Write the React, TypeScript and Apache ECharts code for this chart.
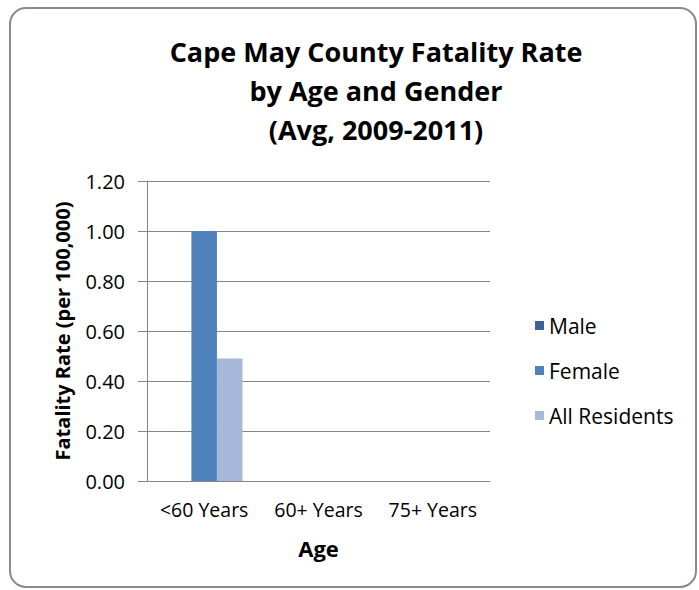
import React, { useEffect, useRef } from "react";
import * as echarts from "echarts";

const categories = ["<60 Years", "60+ Years", "75+ Years"];
const seriesNames = ["Male", "Female", "All Residents"];
const maleValues = [0, null, null];
const femaleValues = [1.0, null, null];
const allValues = [0.49, null, null];
const colors = ["#3D6399", "#4F81BD", "#A7B9DA"];
const titleLines = ["Cape May County Fatality Rate", "by Age and Gender", "(Avg, 2009-2011)"];

const FONT = "'Open Sans', sans-serif";

export default function App() {
  const ref = useRef<HTMLDivElement>(null);
  useEffect(() => {
    if (!ref.current) return;
    const chart = echarts.init(ref.current, null, { renderer: "svg" });
    const values = [maleValues, femaleValues, allValues];
    chart.setOption({
      animation: false,
      backgroundColor: "#ffffff",
      title: {
        text: titleLines.join("\n"),
        left: 371,
        top: 27,
        textAlign: "center",
        textStyle: {
          fontFamily: FONT,
          fontSize: 27,
          fontWeight: "bold",
          color: "#000",
          lineHeight: 39,
        },
      },
      graphic: [
        {
          type: "rect",
          shape: { x: 10, y: 8, width: 686, height: 579, r: 16 },
          style: { fill: "none", stroke: "#8a8a8a", lineWidth: 2 },
          z: -1,
        },
      ],
      legend: {
        orient: "vertical",
        left: 530,
        top: 310,
        itemWidth: 9,
        itemHeight: 9,
        itemGap: 24,
        icon: "rect",
        data: seriesNames,
        textStyle: { fontFamily: FONT, fontSize: 21, color: "#000", lineHeight: 21 },
      },
      grid: { left: 147, right: 209, top: 181, bottom: 109, containLabel: false },
      xAxis: {
        type: "category",
        data: categories,
        name: "Age",
        nameLocation: "middle",
        nameGap: 56,
        nameTextStyle: { fontFamily: FONT, fontSize: 22, fontWeight: "bold", color: "#000" },
        axisLine: { show: true, lineStyle: { color: "#868686", width: 1 } },
        axisTick: { show: false },
        axisLabel: { fontFamily: FONT, fontSize: 19.5, color: "#000", margin: 18, interval: 0, hideOverlap: false },
      },
      yAxis: {
        type: "value",
        min: 0,
        max: 1.2,
        interval: 0.2,
        name: "Fatality Rate (per 100,000)",
        nameLocation: "middle",
        nameGap: 75,
        nameTextStyle: { fontFamily: FONT, fontSize: 20, fontWeight: "bold", color: "#000" },
        axisLine: { show: true, lineStyle: { color: "#868686", width: 1 } },
        axisTick: { show: true, inside: false, length: 9, lineStyle: { color: "#868686" } },
        axisLabel: {
          fontFamily: FONT,
          fontSize: 20,
          color: "#000",
          margin: 22,
          formatter: (v: number) => v.toFixed(2),
        },
        splitLine: { show: true, lineStyle: { color: "#868686", width: 1 } },
      },
      series: seriesNames.map((name, i) => ({
        name,
        type: "bar",
        data: values[i],
        barGap: "0%",
        barCategoryGap: "33%",
        itemStyle: { color: colors[i] },
      })),
    });
    return () => chart.dispose();
  }, []);
  return (
    <div
      ref={ref}
      style={{ position: "absolute", left: 0, top: 0, width: 699, height: 590 }}
    />
  );
}
